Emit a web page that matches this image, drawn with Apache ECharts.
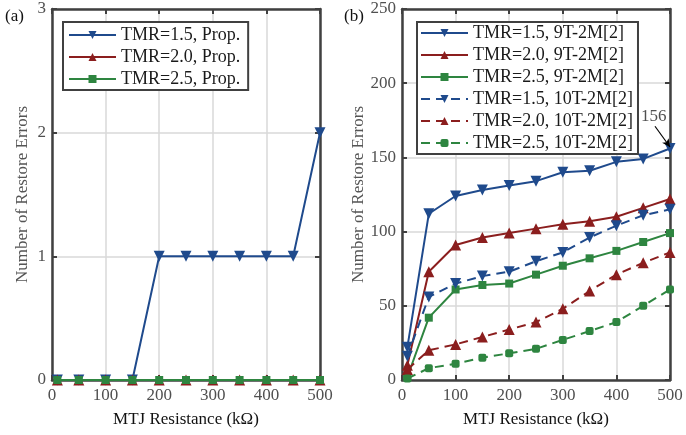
<!DOCTYPE html>
<html>
<head>
<meta charset="utf-8">
<script src="https://cdn.jsdelivr.net/npm/echarts@6/dist/echarts.min.js"></script>
<style>
  html, body { margin: 0; padding: 0; background: #fff; }
  #chart { width: 686px; height: 435px; }
</style>
</head>
<body>
<div id="chart"></div>
<script>
// MTJ resistance (kOhm)
const resistance = [10, 50, 100, 150, 200, 250, 300, 350, 400, 450, 500];

// (a) proposed cell
const propTmr15 = [0, 0, 0, 0, 1, 1, 1, 1, 1, 1, 2];
const propTmr20 = [0, 0, 0, 0, 0, 0, 0, 0, 0, 0, 0];
const propTmr25 = [0, 0, 0, 0, 0, 0, 0, 0, 0, 0, 0];

// (b) 9T-2M and 10T-2M from [2]
const nineTmr15 = [22, 112, 124, 128, 131, 134, 140, 141, 147, 149, 156];
const nineTmr20 = [10, 73, 91, 96, 99, 102, 105, 107, 110, 116, 122];
const nineTmr25 = [2, 42, 61, 64, 65, 71, 77, 82, 87, 93, 99];
const tenTmr15 = [16, 56, 65, 70, 73, 80, 86, 96, 104, 111, 115];
const tenTmr20 = [7, 20, 24, 29, 34, 39, 48, 60, 71, 79, 86];
const tenTmr25 = [1, 8, 11, 15, 18, 21, 27, 33, 39, 50, 61];

const blue = '#1f4a8c';
const red = '#8b1e1e';
const green = '#2e8540';
const frame = '#404040';
const serif = 'Liberation Serif';

const pairs = ys => resistance.map((x, i) => [x, ys[i]]);

function line(name, ys, color, shape, dashed, grid, extra) {
  const tri = shape === 'down' || shape === 'up';
  return Object.assign({
    name: name,
    type: 'line',
    xAxisIndex: grid,
    yAxisIndex: grid,
    data: pairs(ys),
    symbol: tri ? 'triangle' : (shape === 'dot' ? 'roundRect' : 'rect'),
    symbolRotate: shape === 'down' ? 180 : 0,
    symbolSize: tri ? 11 : 8,
    lineStyle: { color: color, width: 2, type: dashed ? [9, 6] : 'solid' },
    itemStyle: { color: color },
    emphasis: { disabled: true },
    animation: false
  }, extra || {});
}

const grids = [
  { left: 52, right: 366, top: 9, bottom: 55 },
  { left: 402, right: 16, top: 9, bottom: 55 }
];

function xAx(grid, pos) {
  const main = pos === 'bottom';
  return {
    type: 'value', gridIndex: grid, position: pos, min: 0, max: 500, interval: 100,
    name: main ? 'MTJ Resistance (kΩ)' : '', nameLocation: 'middle', nameGap: 31,
    nameTextStyle: { fontFamily: serif, fontSize: 17, color: '#111' },
    axisLine: { show: true, onZero: false, lineStyle: { color: frame, width: 2.5 } },
    axisTick: { show: true, inside: true, length: 5, lineStyle: { color: frame, width: 2 } },
    axisLabel: { show: main, fontFamily: serif, fontSize: 17, color: '#505050', margin: 7 },
    splitLine: { show: main, lineStyle: { color: '#d8d8d8', width: 1.5 } }
  };
}

function yAx(grid, pos, max, interval) {
  const main = pos === 'left';
  return {
    type: 'value', gridIndex: grid, position: pos, min: 0, max: max, interval: interval,
    name: main ? 'Number of Restore Errors' : '', nameLocation: 'middle',
    nameGap: grid === 0 ? 21 : 32,
    nameTextStyle: { fontFamily: serif, fontSize: 17, color: '#555' },
    axisLine: { show: true, onZero: false, lineStyle: { color: frame, width: 2.5 } },
    axisTick: { show: true, inside: true, length: 5, lineStyle: { color: frame, width: 2 } },
    axisLabel: { show: main, fontFamily: serif, fontSize: 17, color: '#505050', margin: 6 },
    splitLine: { show: main, lineStyle: { color: '#d8d8d8', width: 1.5 } }
  };
}

const legendBase = {
  orient: 'vertical',
  backgroundColor: '#fff',
  borderColor: frame,
  borderWidth: 2,
  borderRadius: 0,
  itemGap: 4,
  itemHeight: 10,
  textStyle: { fontFamily: serif, fontSize: 18, color: '#1a1a1a' },
  selectedMode: false
};

const chart = echarts.init(document.getElementById('chart'));
chart.setOption({
  animation: false,
  grid: grids,
  xAxis: [xAx(0, 'bottom'), xAx(1, 'bottom'), xAx(0, 'top'), xAx(1, 'top')],
  yAxis: [yAx(0, 'left', 3, 1), yAx(1, 'left', 250, 50), yAx(0, 'right', 3, 1), yAx(1, 'right', 250, 50)],
  legend: [
    Object.assign({}, legendBase, {
      left: 63, top: 22, padding: [4, 8, 2, 5], itemWidth: 47,
      data: ['TMR=1.5, Prop.', 'TMR=2.0, Prop.', 'TMR=2.5, Prop.']
    }),
    Object.assign({}, legendBase, {
      left: 417, top: 22, padding: [2, 5, 2, 3], itemWidth: 47,
      data: ['TMR=1.5, 9T-2M[2]', 'TMR=2.0, 9T-2M[2]', 'TMR=2.5, 9T-2M[2]',
             'TMR=1.5, 10T-2M[2]', 'TMR=2.0, 10T-2M[2]', 'TMR=2.5, 10T-2M[2]']
    })
  ],
  graphic: [
    { type: 'text', left: 5, top: 8, style: { text: '(a)', font: '17px "Liberation Serif"', fill: '#111' } },
    { type: 'text', left: 344, top: 8, style: { text: '(b)', font: '17px "Liberation Serif"', fill: '#111' } }
  ],
  series: [
    line('TMR=1.5, Prop.', propTmr15, blue, 'down', false, 0),
    line('TMR=2.0, Prop.', propTmr20, red, 'up', false, 0),
    line('TMR=2.5, Prop.', propTmr25, green, 'rect', false, 0),
    line('TMR=1.5, 9T-2M[2]', nineTmr15, blue, 'down', false, 1, {
      markLine: {
        silent: true,
        symbol: ['none', 'arrow'],
        symbolSize: [6, 8],
        lineStyle: { color: '#000', width: 1.2, type: 'solid' },
        label: { show: true, position: 'start', formatter: '156', fontFamily: serif, fontSize: 17, color: '#505050', distance: 2 },
        data: [[{ coord: [472, 171] }, { coord: [500, 157] }]]
      }
    }),
    line('TMR=2.0, 9T-2M[2]', nineTmr20, red, 'up', false, 1),
    line('TMR=2.5, 9T-2M[2]', nineTmr25, green, 'rect', false, 1),
    line('TMR=1.5, 10T-2M[2]', tenTmr15, blue, 'down', true, 1),
    line('TMR=2.0, 10T-2M[2]', tenTmr20, red, 'up', true, 1),
    line('TMR=2.5, 10T-2M[2]', tenTmr25, green, 'dot', true, 1)
  ]
});
</script>
</body>
</html>
